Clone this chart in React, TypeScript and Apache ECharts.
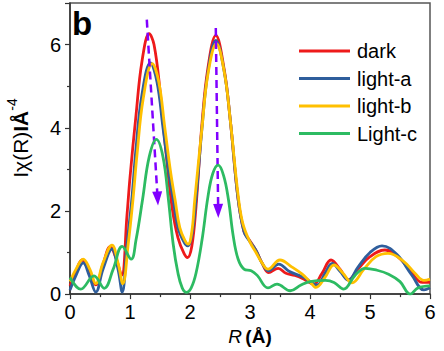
import React, { useEffect, useRef } from "react";
import * as echarts from "echarts";

const seriesNames = ["dark", "light-a", "light-b", "Light-c"];
const seriesColors = ["#EE1A1A", "#2F5E9C", "#FFC000", "#2DBB62"];

const darkData: number[][] = [
  [0, 0.2], [0.1, 0.55], [0.2, 0.82], [0.3, 0.6], [0.43, 0.22], [0.55, 0.72], [0.67, 1.14], [0.77, 0.85],
  [0.86, 0.45], [0.95, 1.9], [1.0, 2.8], [1.1, 4.3], [1.2, 5.6], [1.32, 6.26], [1.4, 6.0], [1.5, 4.9],
  [1.6, 3.4], [1.7, 2.1], [1.8, 1.35], [1.9, 0.98], [1.96, 0.88], [2.03, 1.15], [2.1, 2.1], [2.2, 4.1],
  [2.3, 5.45], [2.43, 6.22], [2.57, 5.4], [2.67, 4.2], [2.8, 2.3], [2.9, 1.5], [2.98, 1.32], [3.1, 1.05],
  [3.2, 0.75], [3.31, 0.52], [3.47, 0.62], [3.6, 0.5], [3.75, 0.45], [3.9, 0.36], [4.06, 0.24], [4.2, 0.5],
  [4.35, 0.82], [4.5, 0.6], [4.64, 0.34], [4.8, 0.6], [5.0, 0.9], [5.25, 1.06], [5.5, 0.85], [5.7, 0.5],
  [5.87, 0.28], [6.0, 0.28],
];

const lightAData: number[][] = [
  [0, 0.1], [0.1, 0.45], [0.22, 0.75], [0.32, 0.45], [0.43, 0.05], [0.55, 0.6], [0.7, 1.08], [0.8, 0.6],
  [0.87, 0.05], [0.95, 1.2], [1.03, 2.28], [1.1, 3.5], [1.2, 4.8], [1.34, 5.56], [1.45, 5.1], [1.55, 4.0],
  [1.65, 2.9], [1.72, 2.28], [1.8, 1.6], [1.9, 1.25], [1.96, 1.16], [2.03, 1.4], [2.1, 2.28], [2.2, 4.0],
  [2.3, 5.35], [2.43, 6.1], [2.57, 5.35], [2.67, 4.2], [2.8, 2.3], [2.9, 1.5], [2.98, 1.3], [3.1, 1.05],
  [3.2, 0.75], [3.31, 0.56], [3.48, 0.72], [3.65, 0.55], [3.9, 0.4], [4.12, 0.22], [4.25, 0.5], [4.37, 0.74],
  [4.5, 0.55], [4.64, 0.34], [4.8, 0.65], [5.0, 1.0], [5.2, 1.16], [5.45, 0.95], [5.7, 0.45], [5.9, 0.1],
  [6.0, 0.15],
];

const lightBData: number[][] = [
  [0, 0.3], [0.1, 0.6], [0.22, 0.84], [0.33, 0.6], [0.43, 0.25], [0.55, 0.75], [0.7, 1.18], [0.8, 0.75],
  [0.88, 0.25], [0.97, 1.2], [1.05, 2.28], [1.12, 3.4], [1.22, 4.7], [1.37, 5.54], [1.48, 5.1], [1.58, 4.0],
  [1.68, 2.9], [1.75, 2.28], [1.83, 1.6], [1.92, 1.28], [1.97, 1.2], [2.03, 1.5], [2.08, 2.28], [2.2, 4.0],
  [2.3, 5.3], [2.44, 6.02], [2.57, 5.35], [2.67, 4.2], [2.8, 2.4], [2.88, 1.7], [3.0, 1.25], [3.1, 1.0],
  [3.2, 0.75], [3.3, 0.6], [3.5, 0.82], [3.7, 0.65], [3.87, 0.48], [4.0, 0.3], [4.1, 0.16], [4.25, 0.4],
  [4.4, 0.7], [4.55, 0.5], [4.7, 0.27], [4.9, 0.6], [5.1, 0.9], [5.3, 0.98], [5.55, 0.8], [5.75, 0.5],
  [5.9, 0.33], [6.0, 0.36],
];

const lightCData: number[][] = [
  [0, 0.4], [0.18, 0.12], [0.4, 0.44], [0.57, 0.14], [0.72, 0.6], [0.87, 1.15], [1.02, 0.84], [1.1, 1.3],
  [1.21, 2.28], [1.32, 3.3], [1.44, 3.72], [1.55, 3.3], [1.64, 2.28], [1.72, 1.2], [1.8, 0.5], [1.87, 0.15],
  [1.94, 0.04], [2.02, 0.15], [2.1, 0.5], [2.2, 1.3], [2.3, 2.35], [2.38, 2.9], [2.47, 3.1], [2.56, 2.85],
  [2.64, 2.28], [2.72, 1.4], [2.8, 0.85], [2.9, 0.6], [3.02, 0.56], [3.12, 0.45], [3.3, 0.15], [3.45, 0.24],
  [3.67, 0.08], [3.85, 0.22], [4.0, 0.3], [4.26, 0.33], [4.4, 0.28], [4.56, 0.12], [4.75, 0.45], [4.92, 0.62],
  [5.1, 0.58], [5.31, 0.48], [5.5, 0.3], [5.67, 0.0], [5.8, 0.15], [6.0, 0.2],
];

const arrow1: number[][] = [[1.28, 6.6], [1.46, 2.3]];
const arrow2: number[][] = [[2.43, 6.4], [2.47, 2.0]];

const xTicks = [0, 1, 2, 3, 4, 5, 6];
const yTicks = [0, 2, 4, 6];

export default function App() {
  const ref = useRef<HTMLDivElement>(null);
  useEffect(() => {
    if (!ref.current) return;
    const chart = echarts.init(ref.current, null, { renderer: "svg" });
    const font = "Liberation Sans, Arial, sans-serif";
    const allData = [darkData, lightAData, lightBData, lightCData];
    const series: any[] = allData.map((d, i) => ({
      name: seriesNames[i],
      type: "line",
      data: d,
      smooth: 0.4,
      showSymbol: false,
      symbol: "none",
      lineStyle: { width: 2.8, color: seriesColors[i] },
      itemStyle: { color: seriesColors[i] },
      z: 2 + i,
    }));
    series.push({
      name: "arrows",
      type: "line",
      data: [],
      silent: true,
      z: 10,
      markLine: {
        silent: true,
        symbol: ["none", "triangle"],
        symbolSize: [10, 14],
        label: { show: false },
        lineStyle: { color: "#8000FF", width: 2.5, type: [8, 5] },
        itemStyle: { color: "#8000FF" },
        data: [
          [{ coord: arrow1[0] }, { coord: arrow1[1] }],
          [{ coord: arrow2[0] }, { coord: arrow2[1] }],
        ],
      },
    });
    chart.setOption({
      animation: false,
      grid: {
        left: 70, top: 3, right: 14, bottom: 56,
        show: true, borderColor: "#555", borderWidth: 1.5, backgroundColor: "transparent",
      },
      legend: {
        data: seriesNames.map((n, i) => ({ name: n, itemStyle: { color: seriesColors[i] } })),
        orient: "vertical",
        left: 294,
        top: 36,
        icon: "rect",
        itemWidth: 51,
        itemHeight: 3,
        itemGap: 7.5,
        textStyle: { fontFamily: font, fontSize: 20, color: "#000", lineHeight: 20, padding: [0, 0, 0, 2] },
      },
      xAxis: {
        type: "value",
        min: xTicks[0],
        max: xTicks[xTicks.length - 1],
        interval: 1,
        name: "{i|R} {b|(Å)}",
        nameLocation: "middle",
        nameGap: 24,
        nameTextStyle: {
          rich: {
            i: { fontFamily: font, fontSize: 19, fontStyle: "italic", color: "#000" },
            b: { fontFamily: font, fontSize: 19, fontWeight: "bold", color: "#000" },
          },
        },
        axisLine: { show: true, lineStyle: { color: "#333", width: 1.5 } },
        axisTick: { show: true, inside: false, length: 5, lineStyle: { color: "#333", width: 1.2 } },
        minorTick: { show: true, splitNumber: 2, length: 3, lineStyle: { color: "#333", width: 1.2 } },
        splitLine: { show: false },
        axisLabel: { fontFamily: font, fontSize: 20, color: "#000", margin: 8 },
      },
      yAxis: {
        type: "value",
        min: 0,
        max: 7,
        interval: 2,
        axisLine: { show: true, lineStyle: { color: "#333", width: 1.5 } },
        axisTick: { show: true, inside: false, length: 5, lineStyle: { color: "#333", width: 1.2 } },
        minorTick: { show: true, splitNumber: 2, length: 3, lineStyle: { color: "#333", width: 1.2 } },
        splitLine: { show: false },
        axisLabel: {
          fontFamily: font, fontSize: 20, color: "#000", margin: 9, showMaxLabel: false,
          formatter: (v: number) => (yTicks.indexOf(v) >= 0 ? String(v) : ""),
        },
      },
      graphic: [
        {
          type: "text",
          x: 18,
          y: 138,
          rotation: Math.PI / 2,
          style: {
            text: "{n|Iχ(R)}{b|IÅ}{s|-4}",
            align: "center",
            verticalAlign: "middle",
            rich: {
              n: { fontFamily: font, fontSize: 21, color: "#000", lineHeight: 26, verticalAlign: "bottom" },
              b: { fontFamily: font, fontSize: 21, fontWeight: "bold", color: "#000", lineHeight: 26, verticalAlign: "bottom" },
              s: { fontFamily: font, fontSize: 14, color: "#000", lineHeight: 26, verticalAlign: "top" },
            },
          },
        },
        {
          type: "text",
          left: 72,
          top: 7,
          style: { text: "b", fontFamily: font, fontSize: 33, fontWeight: "bold", fill: "#000" },
        },
      ],
      series,
    });
    return () => chart.dispose();
  }, []);
  return (
    <div
      ref={ref}
      style={{ position: "fixed", left: 0, top: 0, width: 444, height: 351, background: "#fff" }}
    />
  );
}
